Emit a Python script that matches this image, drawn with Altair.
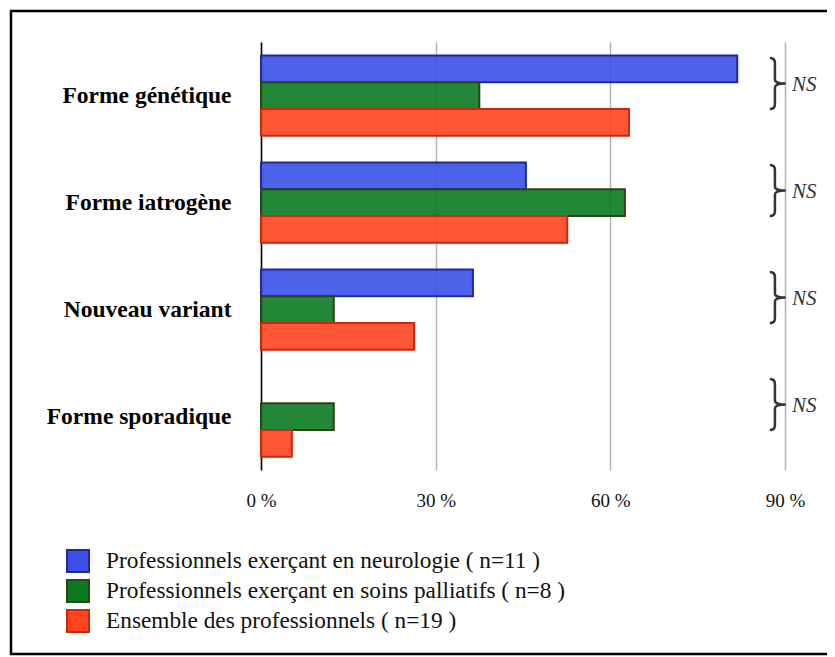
import altair as alt
import pandas as pd

categories = ["Forme génétique", "Forme iatrogène", "Nouveau variant", "Forme sporadique"]
series = [
    "Professionnels exerçant en neurologie ( n=11 )",
    "Professionnels exerçant en soins palliatifs ( n=8 )",
    "Ensemble des professionnels ( n=19 )",
]
neurologie = [81.8, 45.5, 36.4, 0.0]
palliatifs = [37.5, 62.5, 12.5, 12.5]
ensemble = [63.2, 52.6, 26.3, 5.3]
signif = ["NS", "NS", "NS", "NS"]
ticks = [0, 30, 60, 90]

fills = ["#3A50E8", "#0B7A22", "#FF4520"]
strokes = ["#1C2A9E", "#2E4218", "#C42A12"]
FONT = "Liberation Serif"

rows = []
for vals, s in zip([neurologie, palliatifs, ensemble], series):
    for c, v in zip(categories, vals):
        rows.append({"cat": c, "series": s, "v": v})
df = pd.DataFrame(rows)

leg = alt.Legend(
    title=None, orient="none", legendX=-195, legendY=507,
    symbolType="square", symbolSize=484, symbolStrokeWidth=2, symbolOpacity=1,
    labelFontSize=23.3, labelFont=FONT, labelColor="#111", rowPadding=0,
    labelOffset=16, labelLimit=700, padding=0,
)

yenc = alt.Y(
    "cat:N", sort=categories,
    scale=alt.Scale(paddingInner=0.25, paddingOuter=0.125),
    axis=alt.Axis(
        title=None, ticks=False, domainColor="#000", domainWidth=1.5,
        labelFontSize=23.5, labelFontWeight="bold", labelFont=FONT,
        labelColor="#000", labelPadding=30, labelLimit=400,
    ),
)

bars = alt.Chart(df).transform_filter("datum.v > 0").mark_bar(
    fillOpacity=0.9, strokeWidth=2
).encode(
    x=alt.X(
        "v:Q", scale=alt.Scale(domain=[0, 90], nice=False),
        axis=alt.Axis(
            values=ticks, labelExpr="datum.value + ' %'", title=None,
            domain=False, ticks=False, grid=True, gridColor="#b3b3b3",
            gridWidth=1.5, labelFontSize=19, labelFont=FONT,
            labelColor="#111", labelPadding=21, labelFlush=False,
        ),
    ),
    y=yenc,
    yOffset=alt.YOffset("series:N", sort=series, scale=alt.Scale(domain=series, paddingInner=0, paddingOuter=0)),
    color=alt.Color("series:N", sort=series, scale=alt.Scale(domain=series, range=fills), legend=leg),
    stroke=alt.Stroke("series:N", sort=series, scale=alt.Scale(domain=series, range=strokes), legend=leg),
)

brace_path = (
    "M -0.32 -1 Q -0.12 -1 -0.12 -0.8 L -0.12 -0.16 Q -0.12 0 0.3 0 "
    "Q -0.12 0 -0.12 0.16 L -0.12 0.8 Q -0.12 1 -0.32 1"
)
ann = pd.DataFrame({"cat": categories, "ns": signif})

braces = alt.Chart(ann).mark_point(
    shape=brace_path, size=2600, filled=False, stroke="#333",
    strokeWidth=2.5, opacity=1, yOffset=-12,
).encode(
    y=alt.Y("cat:N", sort=categories),
    x=alt.value(517),
)

ns = alt.Chart(ann).mark_text(
    font=FONT, fontStyle="italic", fontSize=21, align="left",
    baseline="middle", dy=-11, color="#333",
).encode(
    y=alt.Y("cat:N", sort=categories),
    x=alt.value(531),
    text="ns:N",
)

border = alt.Chart(pd.DataFrame({"a": [0]})).mark_rect(
    fill="transparent", stroke="#000", strokeWidth=2.5
).encode(
    x=alt.value(-250), x2=alt.value(576),
    y=alt.value(-31), y2=alt.value(612),
)

chart = alt.layer(border, bars, braces, ns).properties(
    width=524, height=428,
    padding={"left": 253, "top": 34, "right": 42, "bottom": 187},
    autosize=alt.AutoSizeParams(type="none"),
    background="white",
).configure_view(stroke=None)

chart.save("out.html", embed_options={"renderer": "svg", "actions": False})
